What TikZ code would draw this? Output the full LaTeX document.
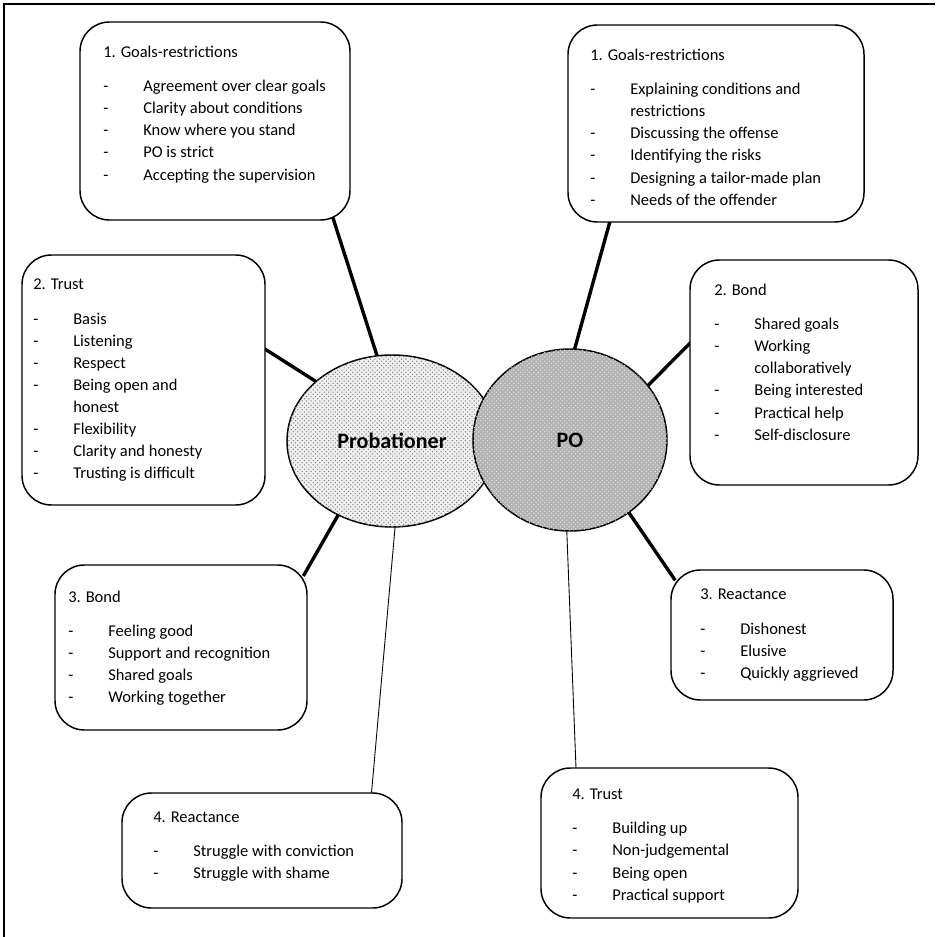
\documentclass[tikz,border=0pt]{standalone}
\usepackage{fontspec}
\setmainfont{Carlito}
\usetikzlibrary{shapes.geometric,patterns,fit}
\pgfdeclarelayer{background}
\pgfsetlayers{background,main}

\newdimen\pxu \pxu=0.68pt
\newcommand{\li}[1]{\makebox[40\pxu][l]{-}#1}
\newcommand{\lc}[1]{\hspace*{40\pxu}#1}

\tikzset{
  card/.style={draw, line width=1pt, rounded corners=20pt, fill=white, inner sep=0pt},
  txt/.style={anchor=north west, align=left, inner sep=0pt, font=\fontsize{11.2}{15}\selectfont},
  party/.style={draw, ellipse, line width=1pt, inner sep=0pt, font=\fontsize{15}{18}\selectfont\bfseries},
  strong/.style={line width=2.3pt, shorten <=-6pt, shorten >=-6pt},
  weak/.style={line width=0.6pt, shorten <=-6pt, shorten >=-6pt},
}

\begin{document}
\begin{tikzpicture}[x=0.68pt,y=-0.68pt]
\useasboundingbox (0,0) rectangle (935,937);
\draw[line width=1pt] (4,937) -- (4,4) -- (935,4);

% the two parties
\node[party, minimum width=210*\pxu, minimum height=172*\pxu, fill=gray!12,
      postaction={pattern=crosshatch dots, pattern color=gray}] (prob) at (392,441) {Probationer};
\node[party, minimum width=194*\pxu, minimum height=182*\pxu, fill=gray!60,
      postaction={pattern=crosshatch dots, pattern color=white!80!gray}] (po) at (570,440) {PO};

% probationer side
\node[card, fit={(80,22) (350,220)}] (gp) {};
\node[txt] (gpt) at (103,46) {1. Goals-restrictions\\[12\pxu]
  \li{Agreement over clear goals}\\
  \li{Clarity about conditions}\\
  \li{Know where you stand}\\
  \li{PO is strict}\\
  \li{Accepting the supervision}};

\node[card, fit={(22,255) (265,505)}] (tp) {};
\node[txt] (tpt) at (33,279) {2. Trust\\[12\pxu]
  \li{Basis}\\
  \li{Listening}\\
  \li{Respect}\\
  \li{Being open and}\\
  \lc{honest}\\
  \li{Flexibility}\\
  \li{Clarity and honesty}\\
  \li{Trusting is difficult}};

\node[card, fit={(55,565) (307,730)}] (bp) {};
\node[txt] (bpt) at (68,591) {3. Bond\\[12\pxu]
  \li{Feeling good}\\
  \li{Support and recognition}\\
  \li{Shared goals}\\
  \li{Working together}};

\node[card, fit={(122,793) (402,908)}] (rp) {};
\node[txt] (rpt) at (153,812) {4. Reactance\\[12\pxu]
  \li{Struggle with conviction}\\
  \li{Struggle with shame}};

% PO side
\node[card, fit={(568,25) (864,222)}] (gr) {};
\node[txt] (grt) at (590,49) {1. Goals-restrictions\\[12\pxu]
  \li{Explaining conditions and}\\
  \lc{restrictions}\\
  \li{Discussing the offense}\\
  \li{Identifying the risks}\\
  \li{Designing a tailor-made plan}\\
  \li{Needs of the offender}};

\node[card, fit={(690,260) (918,485)}] (br) {};
\node[txt] (brt) at (714,284) {2. Bond\\[12\pxu]
  \li{Shared goals}\\
  \li{Working}\\
  \lc{collaboratively}\\
  \li{Being interested}\\
  \li{Practical help}\\
  \li{Self-disclosure}};

\node[card, fit={(671,570) (893,700)}] (rr) {};
\node[txt] (rrt) at (700,589) {3. Reactance\\[12\pxu]
  \li{Dishonest}\\
  \li{Elusive}\\
  \li{Quickly aggrieved}};

\node[card, fit={(541,768) (798,918)}] (tr) {};
\node[txt] (trt) at (572,789) {4. Trust\\[12\pxu]
  \li{Building up}\\
  \li{Non-judgemental}\\
  \li{Being open}\\
  \li{Practical support}};

% links
\begin{pgfonlayer}{background}
\draw[strong] (gp.-40) -- (prob.100);
\draw[strong] (tp.14) -- (prob.142);
\draw[strong] (prob.-126) -- (bp.32);
\draw[weak] (prob.272) -- (rp.28);
\draw[strong] (po.87) -- (gr.-137);
\draw[strong] (br.166) -- (po.35);
\draw[strong] (po.-51) -- (rr.151);
\draw[weak] (po.268) -- (tr.141);
\end{pgfonlayer}
\end{tikzpicture}
\end{document}
